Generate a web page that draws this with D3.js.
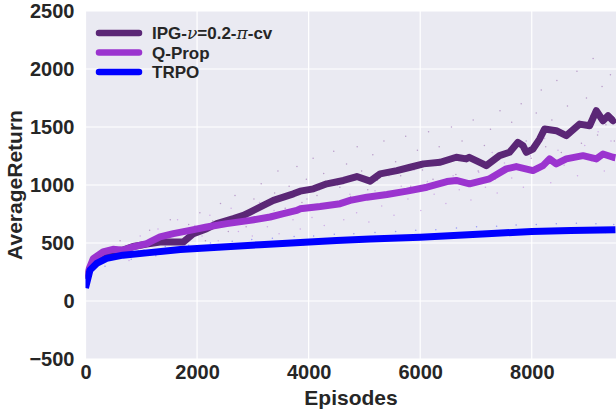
<!DOCTYPE html>
<html><head><meta charset="utf-8">
<script src="https://cdn.jsdelivr.net/npm/d3@7"></script>
<style>
html,body{margin:0;padding:0;background:#fff;}
svg{display:block;}
text{font-family:"Liberation Sans",Arial,sans-serif;font-weight:bold;fill:#262626;}
</style></head>
<body>
<svg id="chart" width="616" height="412"></svg>
<script>
// ---- data ----
const seriesNames = ["IPG-ν=0.2-π-cv", "Q-Prop", "TRPO"];
const seriesColors = ["#5b2776", "#9b34cf", "#0000ff"];
const dotColors = ["#8f5aa8", "#b97ade", "#5a5aff"];

const ipgLine = [[0,190],[140,340],[314,410],[493,430],[673,440],[852,470],[1098,490],[1157,495],[1336,509],[1754,509],[1934,581],[2174,624],[2353,667],[2651,710],[2830,738],[2951,767],[3189,824],[3369,867],[3548,895],[3727,924],[3848,947],[4086,967],[4326,1010],[4624,1039],[4864,1073],[5103,1033],[5282,1096],[5582,1124],[5821,1153],[6059,1182],[6359,1196],[6646,1239],[6825,1225],[6879,1239],[7124,1182],[7184,1167],[7422,1253],[7602,1282],[7752,1368],[7842,1339],[7901,1282],[8021,1310],[8140,1396],[8229,1482],[8439,1468],[8619,1425],[8857,1525],[9037,1511],[9157,1640],[9277,1554],[9367,1597],[9457,1554],[9500,1570]];
const qpropLine = [[0,200],[140,366],[314,423],[493,446],[673,438],[852,466],[1098,495],[1157,509],[1336,552],[1575,581],[1874,609],[2174,638],[2532,667],[2951,695],[3309,724],[3548,753],[3788,781],[3848,795],[4206,815],[4565,839],[4744,867],[5044,895],[5403,918],[5761,947],[6120,981],[6479,1030],[6646,1039],[6884,1010],[7243,1053],[7543,1139],[7722,1159],[8021,1124],[8201,1167],[8319,1225],[8439,1182],[8619,1225],[8918,1253],[9157,1225],[9277,1267],[9457,1239],[9500,1235]];
const trpoLine = [[0,112],[80,266],[200,324],[380,367],[670,395],[1100,415],[1700,444],[2300,461],[3130,485],[3850,505],[4500,522],[5100,535],[6000,550],[6600,565],[7200,580],[8000,600],[8700,607],[9500,615]];

const ipgDots = [[620,520],[950,430],[1150,610],[1380,545],[1520,700],[1700,470],[1850,660],[2050,760],[2150,520],[2280,690],[2420,840],[2560,600],[2680,910],[2760,740],[2880,640],[3020,880],[3150,1010],[3240,720],[3390,930],[3450,1120],[3580,800],[3650,990],[3790,1160],[3880,850],[3960,1050],[4080,1230],[4150,910],[4270,1100],[4380,820],[4450,1290],[4560,980],[4680,1180],[4750,900],[4870,1330],[4950,1120],[5060,960],[5150,1260],[5230,1040],[5350,1380],[5420,930],[5560,1200],[5650,1080],[5740,1420],[5830,990],[5950,1300],[6040,1130],[6150,1460],[6230,1050],[6340,1330],[6420,1180],[6560,1500],[6640,1090],[6750,1380],[6830,1230],[6950,1560],[7040,1120],[7150,1340],[7260,1480],[7340,1050],[7430,1640],[7520,1260],[7640,1540],[7720,1160],[7810,1700],[7900,1380],[7990,1230],[8080,1620],[8170,1820],[8250,1330],[8360,1560],[8450,1900],[8530,1280],[8640,1680],[8720,1450],[8810,1980],[8890,1360],[8980,1750],[9060,1600],[9100,2090],[9180,1430],[9260,1850],[9330,1520],[9410,1950],[9480,1380]];
const qpropDots = [[450,400],[780,350],[980,560],[1120,430],[1300,620],[1480,520],[1650,700],[1780,480],[1960,650],[2090,560],[2230,740],[2380,520],[2470,690],[2610,800],[2740,600],[2850,730],[2990,560],[3120,850],[3260,640],[3380,780],[3470,580],[3610,900],[3720,700],[3850,620],[3970,880],[4060,720],[4190,960],[4280,650],[4390,830],[4520,1000],[4630,700],[4740,920],[4860,760],[4970,1040],[5080,680],[5190,950],[5310,820],[5440,1080],[5530,740],[5660,990],[5780,880],[5890,1130],[6010,780],[6130,1030],[6250,920],[6370,1180],[6460,840],[6590,1080],[6700,960],[6820,1230],[6910,870],[7050,1110],[7170,980],[7290,1280],[7380,930],[7510,1190],[7640,1060],[7760,1340],[7850,980],[7980,1250],[8110,1120],[8230,1400],[8340,1020],[8470,1300],[8580,1170],[8710,1430],[8820,1080],[8950,1340],[9070,1210],[9190,1460],[9300,1120],[9420,1380]];
const trpoDots = [[350,300],[560,410],[820,360],[1050,440],[1260,390],[1430,470],[1640,420],[1850,480],[2020,430],[2240,500],[2410,445],[2630,515],[2790,460],[2980,530],[3170,470],[3350,540],[3520,490],[3740,555],[3910,485],[4090,560],[4280,505],[4460,575],[4630,510],[4810,580],[5020,515],[5190,590],[5380,525],[5560,600],[5740,530],[5920,610],[6110,540],[6280,615],[6470,555],[6650,630],[6820,555],[7010,640],[7190,565],[7370,645],[7540,575],[7720,655],[7900,580],[8080,660],[8260,590],[8440,665],[8620,585],[8800,670],[8980,595],[9150,665],[9320,590],[9470,660]];

const xTicks = [0, 2000, 4000, 6000, 8000];
const yTicks = [-500, 0, 500, 1000, 1500, 2000, 2500];

// ---- layout ----
const svg = d3.select("#chart");
const L = 85.5, R = 616, T = 11, B = 359;
const x = d3.scaleLinear().domain([0, 9510]).range([L, R]);
const y = d3.scaleLinear().domain([-500, 2500]).range([B, T]);

svg.append("rect").attr("x", L).attr("y", T).attr("width", R - L).attr("height", B - T).attr("fill", "#eaeaf2");

// grid
const g = svg.append("g");
g.selectAll("line.gx").data(xTicks).enter().append("line")
  .attr("x1", d => x(d)).attr("x2", d => x(d)).attr("y1", T).attr("y2", B)
  .attr("stroke", "#fff").attr("stroke-width", 1.2);
g.selectAll("line.gy").data(yTicks).enter().append("line")
  .attr("y1", d => y(d)).attr("y2", d => y(d)).attr("x1", L).attr("x2", R)
  .attr("stroke", "#fff").attr("stroke-width", 1.2);

svg.append("clipPath").attr("id", "clip").append("rect")
  .attr("x", L).attr("y", T).attr("width", R - L).attr("height", B - T);
const plot = svg.append("g").attr("clip-path", "url(#clip)");

// dots
[ipgDots, qpropDots, trpoDots].forEach((pts, i) => {
  plot.append("g").selectAll("circle").data(pts).enter().append("circle")
    .attr("cx", d => x(d[0])).attr("cy", d => y(d[1])).attr("r", 0.75)
    .attr("fill", dotColors[i]).attr("opacity", 0.55);
});

// lines
const line = d3.line().x(d => x(d[0])).y(d => y(d[1]));
[ipgLine, qpropLine, trpoLine].forEach((pts, i) => {
  plot.append("path").datum(pts).attr("d", line)
    .attr("fill", "none").attr("stroke", seriesColors[i])
    .attr("stroke-width", 7).attr("stroke-linejoin", "round").attr("stroke-linecap", "butt");
});

// axes
const xAxis = d3.axisBottom(x).tickValues(xTicks).tickSize(0).tickPadding(6).tickFormat(d3.format("d"));
const xa = svg.append("g").attr("transform", `translate(0,${B})`).call(xAxis);
const yAxis = d3.axisLeft(y).tickValues(yTicks).tickSize(0).tickPadding(11)
  .tickFormat(d => d < 0 ? "\u2212" + Math.abs(d) : String(d));
const ya = svg.append("g").attr("transform", `translate(${L},0)`).call(yAxis);
[xa, ya].forEach(a => {
  a.select(".domain").remove();
  a.selectAll("text").attr("font-size", 20).attr("font-family", "Liberation Sans, Arial, sans-serif")
    .attr("font-weight", "bold").attr("fill", "#262626");
});

svg.append("text").attr("x", 351).attr("y", 405).attr("text-anchor", "middle")
  .attr("font-size", 21).text("Episodes");
svg.append("text").attr("transform", "translate(22,185) rotate(-90)").attr("text-anchor", "middle")
  .attr("font-size", 21).text("AverageReturn");

// legend
const leg = svg.append("g");
const legY = [33, 52.5, 72];
seriesNames.forEach((name, i) => {
  leg.append("line").attr("x1", 99).attr("x2", 139).attr("y1", legY[i]).attr("y2", legY[i])
    .attr("stroke", seriesColors[i]).attr("stroke-width", 6.5).attr("stroke-linecap", "round");
  const t = leg.append("text").attr("x", 152).attr("y", legY[i] + 6).attr("font-size", 17);
  if (i === 0) {
    t.append("tspan").text("IPG-");
    t.append("tspan").attr("font-style", "italic").attr("font-weight", "normal")
      .attr("font-family", "DejaVu Serif, serif").text("ν");
    t.append("tspan").text("=0.2-");
    t.append("tspan").attr("font-style", "italic").attr("font-weight", "normal")
      .attr("font-family", "DejaVu Serif, serif").text("π");
    t.append("tspan").text("-cv");
  } else {
    t.text(name);
  }
});
</script>
</body></html>
